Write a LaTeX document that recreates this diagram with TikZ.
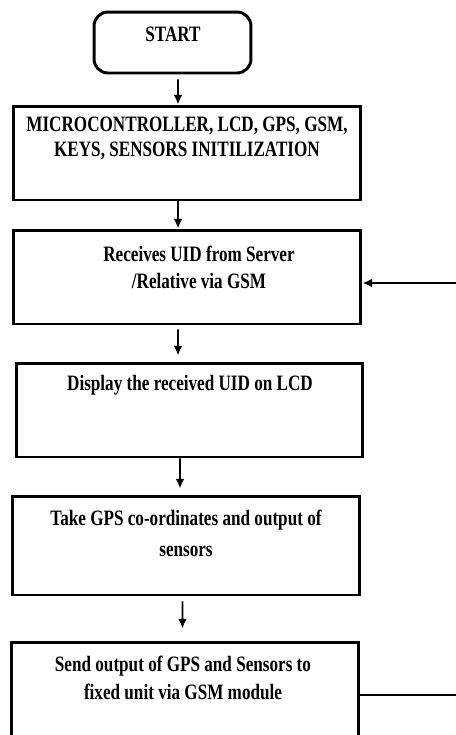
\documentclass[tikz,border=0pt]{standalone}
\usepackage{fontspec}
\setmainfont{Liberation Serif}[FakeStretch=0.78]
\usetikzlibrary{arrows.meta}

\tikzset{
  box/.style={draw, line width=1.7pt, minimum width=6.96cm, minimum height=1.88cm},
  txt/.style={align=center, font=\fontsize{12.5}{15.5}\selectfont\bfseries, inner sep=0pt},
  arr/.style={line width=1.1pt, -{Latex[length=5.5pt,width=5pt]}},
  line/.style={line width=1.1pt}
}

\begin{document}
\begin{tikzpicture}[x=0.02cm, y=-0.02cm]
  \useasboundingbox (0,0) rectangle (456,735);
  \clip (0,0) rectangle (456,735);
  % boxes
  \node[box, rounded corners=8pt, minimum width=3.14cm, minimum height=1.22cm] (start) at (172.5,42.5) {};
  \node[box] (init) at (187,153) {};
  \node[box] (recv) at (187,277) {};
  \node[box, minimum width=6.94cm] (disp) at (189.5,410) {};
  \node[box, minimum height=1.98cm] (take) at (186,545.5) {};
  \node[box, minimum height=2.4cm] (send) at (185,702) {};
  % texts
  \node[txt] (txtstart) at (173,34) {START};
  \node[txt, font=\fontsize{12.5}{14.2}\selectfont\bfseries] (txtinit) at (187,138.5) {MICROCONTROLLER, LCD, GPS, GSM,\\KEYS, SENSORS INITILIZATION};
  \node[txt] (txtrecv) at (199,267) {Receives UID from Server\\/Relative via GSM};
  \node[txt] (txtdisp) at (190,385) {Display the received UID on LCD};
  \node[txt, font=\fontsize{12.5}{17.5}\selectfont\bfseries] (txttake) at (186,533) {Take GPS co-ordinates and output of\\sensors};
  \node[txt] (txtsend) at (183,678) {Send output of GPS and Sensors to\\fixed unit via GSM module};
  % flow
  \draw[arr] ([xshift=0.11cm,yshift=-0.1cm]start.south) -- ([xshift=-0.18cm]init.north);
  \draw[arr] ([xshift=-0.18cm]init.south) -- ([xshift=-0.18cm]recv.north);
  \draw[arr] ([xshift=-0.18cm,yshift=-0.08cm]recv.south) -- ([xshift=-0.23cm,yshift=0.12cm]disp.north);
  \draw[arr] ([xshift=-0.19cm]disp.south) -- ([xshift=-0.12cm,yshift=0.12cm]take.north);
  \draw[arr] ([xshift=-0.07cm,yshift=-0.1cm]take.south) -- ([xshift=-0.05cm,yshift=0.24cm]send.north);
  % loop back
  \coordinate (fbout) at (456,695);
  \coordinate (fbin) at (456,283);
  \draw[line] (send.east |- fbout) -- (fbout);
  \draw[arr] (fbin) -- (recv.east |- fbin);
\end{tikzpicture}
\end{document}
